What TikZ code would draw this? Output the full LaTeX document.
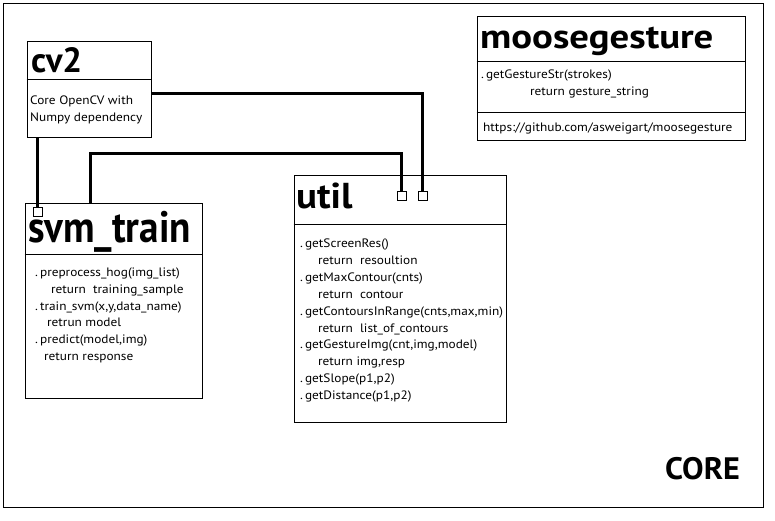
\documentclass[tikz,border=0pt]{standalone}
\usepackage{graphicx}
\usepackage{fontspec}
\setmainfont{PT Sans}
\newfontfamily\bodyfont{PT Sans}[FakeStretch=1.09]
\begin{document}
\begin{tikzpicture}[x=1pt,y=-1pt,
  box/.style={draw,line width=1pt,inner sep=0pt},
  sq/.style={draw,line width=0.9pt,minimum width=9pt,minimum height=9pt,inner sep=0pt},
  conn/.style={line width=3pt},
  divider/.style={line width=1pt},
  ttl/.style={anchor=base west,inner sep=0pt,font=\bfseries\fontsize{#1}{#1}\selectfont},
  body/.style={anchor=base west,inner sep=0pt,font=\bodyfont\fontsize{12.2}{14}\selectfont}]
\useasboundingbox (0,0) rectangle (775,520);
\node[box,minimum width=760pt,minimum height=504pt] (frame) at (383,255) {};
% boxes
\node[box,minimum width=124pt,minimum height=96pt] (cv2) at (89,89) {};
\node[box,minimum width=268pt,minimum height=124pt] (moose) at (611,78) {};
\node[box,minimum width=212pt,minimum height=247pt] (util) at (400,298.5) {};
\node[box,minimum width=177pt,minimum height=195pt] (svm) at (113.5,300.5) {};
% dividers
\draw[divider] (cv2.west |- 0,79) -- (cv2.east |- 0,79);
\draw[divider] (moose.west |- 0,61) -- (moose.east |- 0,61);
\draw[divider] (moose.west |- 0,112) -- (moose.east |- 0,112);
\draw[divider] (util.west |- 0,224) -- (util.east |- 0,224);
\draw[divider] (svm.west |- 0,254) -- (svm.east |- 0,254);
% titles
\node[ttl=35] (tcv2) at (31,72) {cv2};
\node[ttl=34] (tmoose) at (480,48) {\scalebox{1.14}[1]{moosegesture}};
\node[ttl=36] (tutil) at (296,208) {\scalebox{1.08}[1]{util}};
\node[ttl=44] (tsvm) at (28,242) {\scalebox{0.89}[1]{svm\_train}};
\node[ttl=31] (tcore) at (665,479) {\scalebox{1.04}[1]{CORE}};
% cv2 body
\node[body] (c1) at (30,104) {Core OpenCV with};
\node[body] (c2) at (30,121.5) {Numpy dependency};
% moose body
\node[body] (m1) at (481,78.5) {.\,getGestureStr(strokes)};
\node[body] (m2) at (530,95.5) {return gesture\_string};
\node[body] (m3) at (483,131.5) {https://github.com/asweigart/moosegesture};
% util body
\node[body] (u1) at (300,247.5) {.\,getScreenRes()};
\node[body] (u2) at (318,264.4) {return\ \ resoultion};
\node[body] (u3) at (300,281.3) {.\,getMaxContour(cnts)};
\node[body] (u4) at (318,298.2) {return\ \ contour};
\node[body] (u5) at (300,315.1) {.\,getContoursInRange(cnts,max,min)};
\node[body] (u6) at (318,332.0) {return\ \ list\_of\_contours};
\node[body] (u7) at (300,348.9) {.\,getGestureImg(cnt,img,model)};
\node[body] (u8) at (318,365.8) {return img,resp};
\node[body] (u9) at (300,382.7) {.\,getSlope(p1,p2)};
\node[body] (u10) at (300,399.6) {.\,getDistance(p1,p2)};
% svm body
\node[body] (v1) at (35,276) {.\,preprocess\_hog(img\_list)};
\node[body] (v2) at (51,293) {return\ \ training\_sample};
\node[body] (v3) at (35,310) {.\,train\_svm(x,y,data\_name)};
\node[body] (v4) at (47,326.5) {retrun model};
\node[body] (v5) at (35,343.5) {.\,predict(model,img)};
\node[body] (v6) at (44,360.5) {return response};
% ports
\node[sq] (s1) at (37.5,211.5) {};
\node[sq] (s2) at (401.5,196) {};
\node[sq] (s3) at (422.5,196) {};
\coordinate (j1) at (422.5,93);
\coordinate (j2) at (90,153);
% connectors
\draw[conn] (cv2.south -| s1) -- (s1.north);
\draw[conn] (cv2.east |- j1) -- (j1) -- (s3.north);
\draw[conn] (svm.north -| j2) -- (j2) -| (s2.north);
\end{tikzpicture}
\end{document}
